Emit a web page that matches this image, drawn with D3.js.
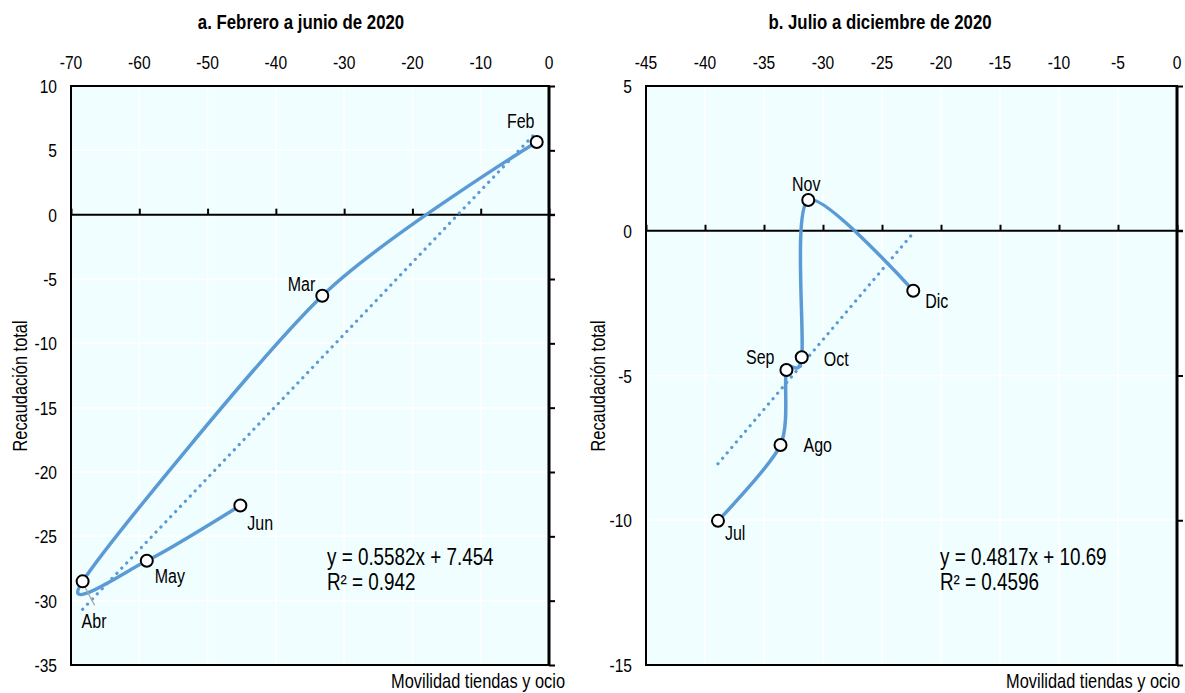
<!DOCTYPE html>
<html>
<head>
<meta charset="utf-8">
<script src="https://cdn.jsdelivr.net/npm/d3@7"></script>
<style>
  html, body { margin: 0; padding: 0; background: #ffffff; }
  svg text { font-family: "Liberation Sans", Arial, Helvetica, sans-serif; fill: #000; }
</style>
</head>
<body>
<div id="chart"></div>
<script>
// ---------- DATA ----------
const monthsA   = ["Feb", "Mar", "Abr", "May", "Jun"];
const mobilityA = [-1.8, -33.2, -68.3, -58.9, -45.2];
const revenueA  = [5.65, -6.3, -28.5, -26.9, -22.6];
const slopeA = 0.5582, interceptA = 7.454;
const eqA = ["y = 0.5582x + 7.454", "R² = 0.942"];
const titleA = "a. Febrero a junio de 2020";
const xTicksA = [-70, -60, -50, -40, -30, -20, -10, 0];
const yTicksA = [10, 5, 0, -5, -10, -15, -20, -25, -30, -35];

const monthsB   = ["Jul", "Ago", "Sep", "Oct", "Nov", "Dic"];
const mobilityB = [-38.9, -33.6, -33.1, -31.8, -31.25, -22.35];
const revenueB  = [-10.02, -7.40, -4.81, -4.37, 1.06, -2.07];
const slopeB = 0.4817, interceptB = 10.69;
const eqB = ["y = 0.4817x + 10.69", "R² = 0.4596"];
const titleB = "b. Julio a diciembre de 2020";
const xTicksB = [-45, -40, -35, -30, -25, -20, -15, -10, -5, 0];
const yTicksB = [5, 0, -5, -10, -15];

const yTitle = "Recaudación total";
const xTitle = "Movilidad tiendas y ocio";

// ---------- LAYOUT ----------
const W = 1185, H = 693;
const lineColor = "#5b9bd5";
const bgColor = "#f0feff";
const NARROW = 0.82;

const labelLayoutA = [
  {anchor: "middle", dx: -16, dy: -14},
  {anchor: "end", dx: -7, dy: -5},
  {anchor: "start", dx: -1, dy: 47, leader: true},
  {anchor: "start", dx: 8, dy: 22},
  {anchor: "start", dx: 7, dy: 25}
];
const labelLayoutB = [
  {anchor: "start", dx: 7, dy: 19},
  {anchor: "start", dx: 23, dy: 7},
  {anchor: "end", dx: -12, dy: -6},
  {anchor: "start", dx: 22, dy: 9},
  {anchor: "middle", dx: -2, dy: -9},
  {anchor: "start", dx: 12, dy: 17}
];

const svg = d3.select("#chart").append("svg")
  .attr("width", W).attr("height", H);

// narrow text helper (condensed glyphs like Arial Narrow)
function ntext(sel, x, y, anchor, size, rot) {
  return sel.attr("transform", (d, i) => {
      const xx = typeof x === "function" ? x(d, i) : x;
      const yy = typeof y === "function" ? y(d, i) : y;
      return `translate(${xx},${yy})` + (rot ? ` rotate(${rot})` : "") + ` scale(${NARROW},1)`;
    })
    .attr("text-anchor", anchor).attr("font-size", size);
}

function panel(cfg) {
  const x = d3.scaleLinear().domain(cfg.xDomain).range([cfg.left, cfg.right]);
  const y = d3.scaleLinear().domain(cfg.yDomain).range([cfg.bottom, cfg.top]);
  const g = svg.append("g");

  // background
  g.append("rect").attr("x", cfg.left).attr("y", cfg.top)
    .attr("width", cfg.right - cfg.left).attr("height", cfg.bottom - cfg.top)
    .attr("fill", bgColor);

  // gridlines
  g.append("g").selectAll("line").data(cfg.xTicks).join("line")
    .attr("x1", d => x(d)).attr("x2", d => x(d))
    .attr("y1", cfg.top).attr("y2", cfg.bottom)
    .attr("stroke", "#ffffff").attr("stroke-width", 1.5);
  g.append("g").selectAll("line").data(cfg.yTicks).join("line")
    .attr("x1", cfg.left).attr("x2", cfg.right)
    .attr("y1", d => y(d)).attr("y2", d => y(d))
    .attr("stroke", "#ffffff").attr("stroke-width", 1.5);

  // border
  g.append("rect").attr("x", cfg.left).attr("y", cfg.top)
    .attr("width", cfg.right - cfg.left).attr("height", cfg.bottom - cfg.top)
    .attr("fill", "none").attr("stroke", "#000").attr("stroke-width", 2);

  // zero line (x axis) with upward ticks
  const xAxis = d3.axisTop(x).tickValues(cfg.xTicks).tickSize(6).tickFormat("");
  const xa = g.append("g").attr("transform", `translate(0,${y(0)})`).call(xAxis);
  xa.select(".domain").attr("stroke", "#000").attr("stroke-width", 2)
    .attr("d", `M${cfg.left},0H${cfg.right + 6}`);
  xa.selectAll(".tick line").attr("stroke", "#000").attr("stroke-width", 2);

  // right axis at x=0 with ticks to right
  const yAxis = d3.axisRight(y).tickValues(cfg.yTicks).tickSize(6).tickFormat("");
  const ya = g.append("g").attr("transform", `translate(${x(0)},0)`).call(yAxis);
  ya.select(".domain").attr("stroke", "#000").attr("stroke-width", 3)
    .attr("d", `M0,${cfg.top}V${cfg.bottom}`);
  ya.selectAll(".tick line").attr("stroke", "#000").attr("stroke-width", 2);

  // tick labels top
  ntext(g.append("g").selectAll("text").data(cfg.xTicks).join("text"),
        d => x(d), 69, "middle", 19)
    .text(d => String(d));
  // tick labels left
  ntext(g.append("g").selectAll("text").data(cfg.yTicks).join("text"),
        cfg.left - 14, d => y(d) + 7, "end", 19)
    .text(d => String(d));

  // title
  ntext(g.append("text"), cfg.titleX, 29, "middle", 20.5)
    .attr("font-weight", "bold").text(cfg.title);

  // axis titles
  ntext(g.append("text"), cfg.yTitleX, 386, "middle", 20, -90).text(yTitle);
  ntext(g.append("text"), cfg.xTitleX, 688, "end", 20).text(xTitle);

  // data
  const pts = cfg.xs.map((v, i) => ({x: v, y: cfg.ys[i], m: cfg.months[i], lay: cfg.layout[i]}));

  // trendline (dotted)
  const xMin = d3.min(cfg.xs), xMax = d3.max(cfg.xs);
  g.append("line")
    .attr("x1", x(xMin)).attr("y1", y(cfg.slope * xMin + cfg.intercept))
    .attr("x2", x(xMax)).attr("y2", y(cfg.slope * xMax + cfg.intercept))
    .attr("stroke", lineColor).attr("stroke-width", 3.2)
    .attr("stroke-linecap", "round").attr("stroke-dasharray", "0.1 7");

  // smooth line
  const line = d3.line().x(d => x(d.x)).y(d => y(d.y)).curve(d3.curveCardinal.tension(0.2));
  g.append("path").datum(pts).attr("d", line)
    .attr("fill", "none").attr("stroke", lineColor).attr("stroke-width", 3.5)
    .attr("stroke-linejoin", "round").attr("stroke-linecap", "round");

  // leader lines
  g.append("g").selectAll("line").data(pts.filter(p => p.lay.leader)).join("line")
    .attr("x1", d => x(d.x) + 2).attr("y1", d => y(d.y) + 5)
    .attr("x2", d => x(d.x) + 12).attr("y2", d => y(d.y) + 24)
    .attr("stroke", "#a6a6a6").attr("stroke-width", 1.2);

  // markers
  g.append("g").selectAll("circle").data(pts).join("circle")
    .attr("cx", d => x(d.x)).attr("cy", d => y(d.y)).attr("r", 6)
    .attr("fill", "#fff").attr("stroke", "#000").attr("stroke-width", 2);

  // point labels
  ntext(g.append("g").selectAll("text").data(pts).join("text"),
        d => x(d.x) + d.lay.dx, d => y(d.y) + d.lay.dy, d => d.lay.anchor, 19.5)
    .text(d => d.m);

  // equation
  ntext(g.append("g").selectAll("text").data(cfg.eq).join("text"),
        cfg.eqX, (d, i) => 565 + i * 25, "start", 23)
    .text(d => d);
}

panel({
  xDomain: [-70, 0], yDomain: [-35, 10],
  left: 71, right: 549, top: 86, bottom: 665,
  xTicks: xTicksA, yTicks: yTicksA,
  xs: mobilityA, ys: revenueA, months: monthsA, layout: labelLayoutA,
  slope: slopeA, intercept: interceptA, eq: eqA, eqX: 327,
  title: titleA, titleX: 301, yTitleX: 27, xTitleX: 565
});
panel({
  xDomain: [-45, 0], yDomain: [-15, 5],
  left: 646, right: 1177, top: 86, bottom: 665,
  xTicks: xTicksB, yTicks: yTicksB,
  xs: mobilityB, ys: revenueB, months: monthsB, layout: labelLayoutB,
  slope: slopeB, intercept: interceptB, eq: eqB, eqX: 940,
  title: titleB, titleX: 880, yTitleX: 605, xTitleX: 1180
});
</script>
</body>
</html>
